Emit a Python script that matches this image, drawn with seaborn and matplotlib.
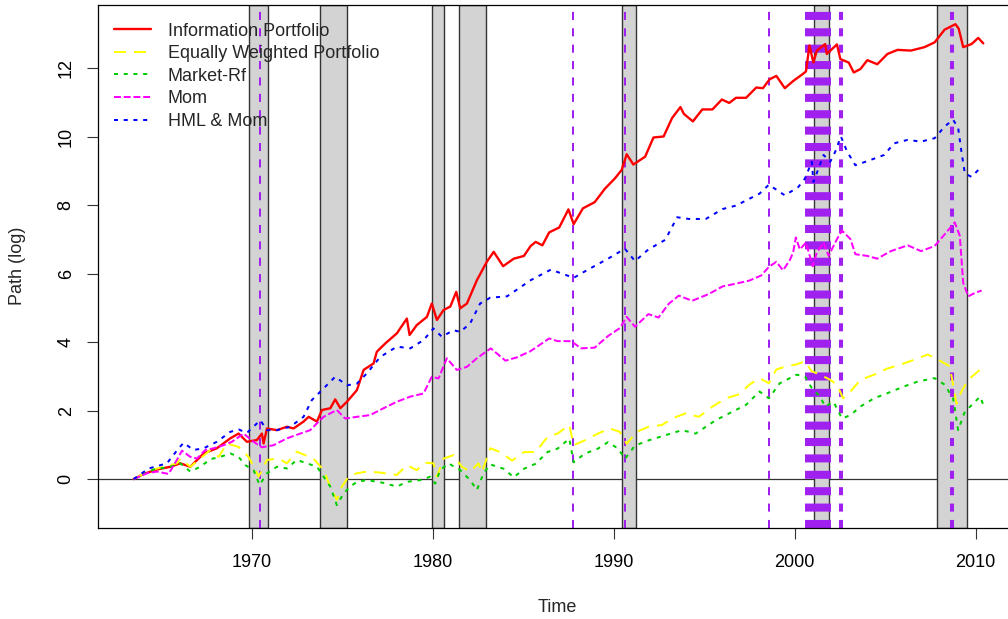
import numpy as np
import pandas as pd
import seaborn as sns
from matplotlib import pyplot as plt

sns.set_theme(style='white')
plt.rcParams['font.family'] = ['Liberation Sans', 'DejaVu Sans']
plt.rcParams['lines.scale_dashes'] = False

# series (decimal year, log path)
info_years = [1963.46, 1964.01, 1964.75, 1965.49, 1966.04, 1966.59, 1967.33, 1968.06, 1968.80, 1969.26,
              1969.72, 1970.27, 1970.55, 1970.64, 1970.83, 1971.38, 1971.93, 1972.30, 1972.85, 1973.13,
              1973.59, 1973.87, 1974.33, 1974.60, 1974.88, 1975.25, 1975.80, 1976.17, 1976.72, 1976.90,
              1977.36, 1978.01, 1978.56, 1978.71, 1979.11, 1979.67, 1979.94, 1980.22, 1980.59, 1980.96,
              1981.29, 1981.51, 1981.88, 1982.43, 1982.98, 1983.36, 1983.88, 1984.47, 1985.03, 1985.40,
              1985.68, 1986.05, 1986.43, 1986.98, 1987.49, 1987.78, 1988.29, 1988.94, 1989.50, 1990.05,
              1990.43, 1990.71, 1991.08, 1991.73, 1992.19, 1992.75, 1993.22, 1993.68, 1993.87, 1994.37,
              1994.89, 1995.45, 1995.97, 1996.38, 1996.75, 1997.31, 1997.87, 1998.24, 1998.61, 1998.98,
              1999.45, 1999.91, 2000.38, 2000.62, 2000.81, 2001.03, 2001.22, 2001.68, 2001.77, 2002.33,
              2002.52, 2002.98, 2003.26, 2003.63, 2004.01, 2004.56, 2005.12, 2005.68, 2006.42, 2007.17,
              2007.73, 2008.28, 2008.88, 2009.06, 2009.31, 2009.77, 2010.14, 2010.42]
info_vals = [0.00, 0.15, 0.28, 0.36, 0.46, 0.36, 0.75, 0.90, 1.19, 1.33,
             1.09, 1.14, 1.33, 1.04, 1.48, 1.43, 1.53, 1.48, 1.68, 1.82,
             1.68, 2.02, 2.07, 2.33, 2.07, 2.26, 2.60, 3.19, 3.38, 3.72,
             3.96, 4.26, 4.69, 4.21, 4.50, 4.74, 5.13, 4.65, 4.94, 5.04,
             5.47, 4.99, 5.13, 5.81, 6.35, 6.64, 6.22, 6.44, 6.52, 6.81,
             6.93, 6.83, 7.21, 7.35, 7.88, 7.45, 7.91, 8.09, 8.48, 8.78,
             9.03, 9.49, 9.19, 9.42, 9.98, 10.01, 10.55, 10.87, 10.67, 10.45,
             10.80, 10.80, 11.09, 10.99, 11.14, 11.14, 11.44, 11.42, 11.68, 11.78,
             11.42, 11.63, 11.81, 11.91, 12.67, 12.17, 12.52, 12.71, 12.42, 12.70,
             12.27, 12.17, 11.88, 11.98, 12.24, 12.12, 12.42, 12.54, 12.52, 12.62,
             12.76, 13.13, 13.29, 13.16, 12.62, 12.71, 12.89, 12.73]

ew_years = [1963.46, 1964.38, 1965.30, 1965.85, 1966.04, 1966.59, 1967.14, 1967.70, 1968.16, 1968.62,
            1969.26, 1969.81, 1970.37, 1970.83, 1971.47, 1971.93, 1972.48, 1972.94, 1973.40, 1973.96,
            1974.33, 1974.69, 1974.97, 1975.34, 1975.80, 1976.35, 1977.09, 1978.01, 1978.56, 1979.11,
            1979.57, 1980.03, 1980.22, 1980.59, 1981.14, 1981.60, 1982.06, 1982.52, 1982.71, 1983.17,
            1983.73, 1984.38, 1985.03, 1985.68, 1986.33, 1986.89, 1987.54, 1987.78, 1988.38, 1989.12,
            1989.77, 1990.33, 1990.71, 1991.26, 1991.91, 1992.66, 1993.22, 1993.96, 1994.70, 1995.45,
            1996.19, 1996.94, 1997.49, 1998.05, 1998.57, 1998.98, 1999.54, 2000.10, 2000.56, 2000.94,
            2001.40, 2001.96, 2002.33, 2002.67, 2003.08, 2003.63, 2004.38, 2005.12, 2005.87, 2006.61,
            2007.35, 2007.91, 2008.56, 2008.75, 2008.94, 2009.21, 2009.59, 2010.24]
ew_vals = [0.00, 0.26, 0.38, 0.46, 0.60, 0.36, 0.60, 0.85, 0.65, 1.04,
           0.94, 0.65, 0.07, 0.56, 0.60, 0.46, 0.80, 0.70, 0.60, 0.26,
           -0.22, -0.61, -0.22, 0.07, 0.17, 0.22, 0.19, 0.12, 0.41, 0.26,
           0.48, 0.46, 0.07, 0.60, 0.70, 0.36, 0.22, 0.46, 0.20, 0.90,
           0.79, 0.54, 0.79, 0.79, 1.23, 1.33, 1.58, 0.99, 1.13, 1.33,
           1.48, 1.38, 1.03, 1.38, 1.53, 1.58, 1.77, 1.92, 1.82, 2.12,
           2.36, 2.48, 2.76, 2.95, 2.80, 3.20, 3.30, 3.35, 3.44, 3.15,
           3.05, 2.90, 2.76, 2.36, 2.56, 2.90, 3.05, 3.23, 3.35, 3.49,
           3.64, 3.49, 3.30, 2.76, 2.20, 2.56, 2.90, 3.20]

mkt_years = [1963.46, 1964.56, 1965.49, 1966.04, 1966.59, 1967.14, 1967.70, 1968.25, 1968.80, 1969.26,
             1969.63, 1970.09, 1970.42, 1970.83, 1971.38, 1971.93, 1972.48, 1973.04, 1973.59, 1973.96,
             1974.33, 1974.69, 1975.06, 1975.43, 1975.80, 1976.35, 1977.27, 1978.01, 1978.56, 1979.30,
             1979.85, 1980.13, 1980.40, 1980.86, 1981.51, 1982.06, 1982.43, 1982.80, 1983.17, 1983.92,
             1984.47, 1985.03, 1985.68, 1986.33, 1986.89, 1987.54, 1987.78, 1988.38, 1989.12, 1989.68,
             1990.24, 1990.61, 1991.17, 1991.91, 1992.84, 1993.77, 1994.52, 1995.63, 1996.56, 1997.31,
             1998.05, 1998.57, 1999.17, 2000.10, 2000.56, 2000.94, 2001.40, 2001.68, 2002.14, 2002.61,
             2003.08, 2003.63, 2004.38, 2005.12, 2006.05, 2006.80, 2007.73, 2008.28, 2008.75, 2009.03,
             2009.40, 2009.87, 2010.24, 2010.42]
mkt_vals = [0.00, 0.28, 0.36, 0.46, 0.22, 0.36, 0.58, 0.65, 0.75, 0.65,
            0.41, 0.26, -0.17, 0.17, 0.36, 0.31, 0.56, 0.46, 0.36, 0.07,
            -0.22, -0.76, -0.42, -0.22, -0.08, -0.03, -0.11, -0.22, -0.08, -0.03,
            0.07, -0.13, 0.26, 0.46, 0.26, -0.03, -0.32, 0.17, 0.43, 0.30,
            0.05, 0.30, 0.45, 0.79, 0.89, 1.18, 0.49, 0.74, 0.89, 1.08,
            0.89, 0.59, 0.98, 1.13, 1.28, 1.43, 1.33, 1.72, 1.97, 2.17,
            2.56, 2.36, 2.80, 3.05, 3.00, 2.66, 2.41, 2.12, 2.26, 1.77,
            1.87, 2.12, 2.36, 2.51, 2.71, 2.85, 2.95, 2.76, 2.36, 1.43,
            1.97, 2.21, 2.41, 2.17]

mom_years = [1963.46, 1964.20, 1964.75, 1965.39, 1965.85, 1966.13, 1966.59, 1966.96, 1967.42, 1967.88,
             1968.43, 1968.89, 1969.54, 1970.09, 1970.55, 1971.19, 1971.93, 1972.67, 1973.22, 1973.59,
             1973.96, 1974.69, 1975.15, 1975.80, 1976.53, 1977.27, 1978.01, 1978.75, 1979.48, 1979.94,
             1980.31, 1980.77, 1981.32, 1981.88, 1982.43, 1983.20, 1984.01, 1984.66, 1985.40, 1986.43,
             1986.89, 1987.64, 1988.19, 1988.94, 1989.68, 1990.33, 1990.71, 1991.17, 1991.91, 1992.47,
             1993.03, 1993.59, 1994.33, 1995.26, 1996.01, 1996.75, 1997.49, 1998.15, 1998.57, 1998.98,
             1999.35, 1999.72, 1999.91, 2000.06, 2000.28, 2000.62, 2000.99, 2001.22, 2001.59, 2001.87,
             2002.33, 2002.61, 2003.08, 2003.35, 2004.01, 2004.56, 2005.31, 2006.24, 2006.98, 2007.73,
             2008.38, 2008.84, 2009.12, 2009.31, 2009.59, 2009.96, 2010.33]
mom_vals = [0.00, 0.17, 0.22, 0.15, 0.56, 0.83, 0.65, 0.60, 0.85, 0.90,
            0.99, 1.09, 1.33, 1.09, 0.93, 0.99, 1.19, 1.33, 1.43, 1.63,
            1.82, 2.02, 1.77, 1.82, 1.87, 2.07, 2.26, 2.41, 2.50, 2.99,
            2.94, 3.53, 3.19, 3.28, 3.53, 3.82, 3.46, 3.56, 3.74, 4.11,
            4.03, 4.03, 3.82, 3.84, 4.18, 4.41, 4.74, 4.45, 4.82, 4.72,
            5.12, 5.36, 5.21, 5.41, 5.63, 5.71, 5.80, 5.95, 6.20, 6.35,
            6.10, 6.39, 6.62, 7.06, 6.71, 6.91, 6.22, 6.62, 6.91, 6.52,
            7.01, 7.26, 7.01, 6.57, 6.52, 6.44, 6.66, 6.83, 6.66, 6.81,
            7.21, 7.50, 7.11, 5.73, 5.34, 5.44, 5.51]

hml_years = [1963.46, 1964.29, 1965.30, 1965.95, 1966.22, 1966.77, 1967.33, 1968.06, 1968.80, 1969.26,
             1969.72, 1970.46, 1970.83, 1971.38, 1972.12, 1972.85, 1973.31, 1973.77, 1974.60, 1975.25,
             1975.80, 1976.35, 1977.09, 1978.01, 1978.75, 1979.48, 1980.03, 1980.49, 1981.14, 1981.51,
             1982.06, 1982.61, 1983.17, 1984.10, 1984.85, 1985.40, 1986.52, 1987.26, 1987.78, 1988.57,
             1989.68, 1990.61, 1991.17, 1991.91, 1992.84, 1993.50, 1994.15, 1995.08, 1996.01, 1996.75,
             1997.49, 1998.05, 1998.57, 1999.45, 2000.19, 2000.56, 2000.94, 2001.03, 2001.31, 2001.59,
             2001.96, 2002.24, 2002.55, 2002.89, 2003.35, 2004.01, 2004.94, 2005.49, 2006.24, 2006.98,
             2007.73, 2008.28, 2008.75, 2009.03, 2009.21, 2009.40, 2009.77, 2010.14, 2010.33]
hml_vals = [0.00, 0.31, 0.46, 0.90, 1.06, 0.85, 0.90, 1.09, 1.38, 1.45,
            1.35, 1.72, 1.43, 1.43, 1.53, 1.82, 2.31, 2.55, 2.99, 2.74,
            2.79, 3.09, 3.57, 3.87, 3.82, 4.06, 4.40, 4.16, 4.35, 4.30,
            4.55, 5.13, 5.30, 5.34, 5.61, 5.81, 6.12, 5.98, 5.88, 6.12,
            6.44, 6.73, 6.37, 6.71, 6.99, 7.65, 7.60, 7.60, 7.89, 7.99,
            8.19, 8.34, 8.60, 8.29, 8.53, 8.78, 9.27, 8.68, 9.07, 9.47,
            9.27, 9.57, 10.01, 9.57, 9.17, 9.29, 9.47, 9.81, 9.91, 9.86,
            9.96, 10.30, 10.50, 10.26, 9.57, 8.93, 8.83, 9.03, 9.12]

series_names = ['Information Portfolio', 'Equally Weighted Portfolio', 'Market-Rf', 'Mom', 'HML & Mom']
series_years = [info_years, ew_years, mkt_years, mom_years, hml_years]
series_vals = [info_vals, ew_vals, mkt_vals, mom_vals, hml_vals]

# recession bands (start, end) and event dates
recession_start = [1969.85, 1973.76, 1979.94, 1981.44, 1990.44, 2001.08, 2007.85]
recession_end = [1970.90, 1975.23, 1980.59, 1982.93, 1991.25, 2001.91, 2009.50]
event_dates = [1970.42, 1987.73, 1990.59, 1998.60, 2001.26, 2002.54, 2008.71]

# styles
colors = ['#FF0000', '#FFFF00', '#00CD00', '#FF00FF', '#0000FF']
styles = ['-', (0, (8.6, 5.8)), (0, (2.9, 4.1)), (0, (5.0, 2.0)), (0, (2.9, 4.1))]
widths = [1.7, 1.44, 1.44, 1.44, 1.44]
event_lw = [1.44, 1.44, 1.44, 1.44, 18.7, 2.9, 2.9]

df = pd.concat([pd.DataFrame({'year': y, 'value': v, 'series': n})
                for n, y, v in zip(series_names, series_years, series_vals)], ignore_index=True)

fig = plt.figure(figsize=(10.08, 6.19), dpi=100)
ax = fig.add_axes([98 / 1008, 91.3 / 619, 919.5 / 1008, 523 / 619])

ax.axhline(0, color='#333333', lw=0.9, zorder=0.8)
for s, e in zip(recession_start, recession_end):
    ax.axvspan(s, e, facecolor='#D3D3D3', edgecolor='#333333', lw=1.0, zorder=1)
for d, w in zip(event_dates, event_lw):
    ax.axvline(d, color='#A020F0', lw=w, linestyle=(0, (5.8, 6.0)), zorder=1.5)

for name, c, ls, w in zip(series_names, colors, styles, widths):
    sns.lineplot(data=df[df['series'] == name], x='year', y='value', color=c, linestyle=ls,
                 lw=w, estimator=None, sort=False, label=name, ax=ax, zorder=2)

ax.set_xlim(1961.49, 2012.31)
ax.set_ylim(-1.42, 13.86)
ax.set_xticks([1970, 1980, 1990, 2000, 2010])
ax.set_yticks([0, 2, 4, 6, 8, 10, 12])
ax.tick_params(axis='both', which='major', direction='out', length=8.1, width=0.8,
               color='#333333', labelsize=13, labelcolor='black', bottom=True, left=True)
ax.tick_params(axis='x', pad=11)
ax.tick_params(axis='y', pad=8.7, labelrotation=90)
plt.setp(ax.get_yticklabels(), va='center')
for sp in ax.spines.values():
    sp.set_color('black')
    sp.set_linewidth(0.9)

ax.set_xlabel('Time', fontsize=13)
ax.set_ylabel('Path (log)', fontsize=13)
ax.xaxis.set_label_coords(0.5, -79.3 / 523)
ax.yaxis.set_label_coords(-80 / 919.5, 0.5)
ax.xaxis.label.set_va('center')
ax.yaxis.label.set_va('center')

ax.legend(loc='upper left', bbox_to_anchor=(114 / 1008, 1 - 22.5 / 619), bbox_transform=fig.transFigure,
          frameon=False, fontsize=13, handlelength=2.03, handletextpad=0.94, labelspacing=0.31,
          borderpad=0, borderaxespad=0)

fig.savefig('out.png', dpi=100)
